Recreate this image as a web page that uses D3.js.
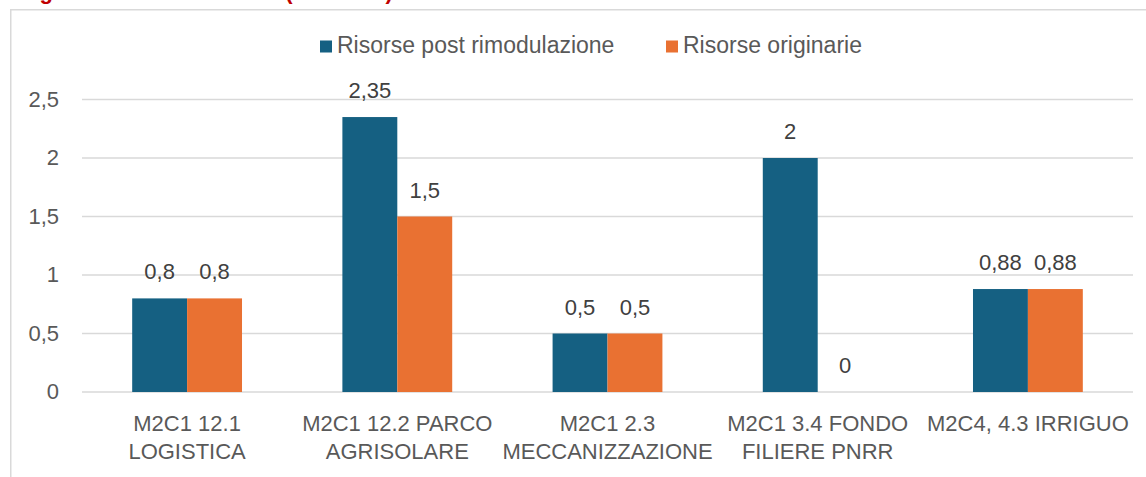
<!DOCTYPE html>
<html>
<head>
<meta charset="utf-8">
<script src="https://cdn.jsdelivr.net/npm/d3@7"></script>
<style>
  body { margin: 0; background: #fff; overflow: hidden; }
  svg text { font-family: "Liberation Sans", Arial, sans-serif; }
</style>
</head>
<body>
<script>
// data
var categories = ["M2C1 12.1 LOGISTICA", "M2C1 12.2 PARCO AGRISOLARE", "M2C1 2.3 MECCANIZZAZIONE", "M2C1 3.4 FONDO FILIERE PNRR", "M2C4, 4.3 IRRIGUO"];
var seriesNames = ["Risorse post rimodulazione", "Risorse originarie"];
var postValues = [0.8, 2.35, 0.5, 2, 0.88];
var origValues = [0.8, 1.5, 0.5, 0, 0.88];
var yTicks = [0, 0.5, 1, 1.5, 2, 2.5];
var colors = ["#156082", "#E97132"];

var chartW = 1146, chartH = 477;
var plotLeft = 82, plotRight = 1133, plotTop = 99.5, plotBottom = 392;

var svg = d3.select("body").append("svg")
  .attr("width", chartW)
  .attr("height", chartH)
  .style("display", "block");

// title, cut off at the top edge
svg.append("text")
  .attr("x", 20).attr("y", -1)
  .attr("fill", "#C00000")
  .attr("font-weight", "bold")
  .attr("font-size", 22)
  .text("Figura 2 – Risorse PNRR (mld euro)");

// frame
svg.append("path")
  .attr("d", "M10.75," + chartH + "V9.75H" + chartW)
  .attr("fill", "none")
  .attr("stroke", "#d9d9d9")
  .attr("stroke-width", 1.5);

var x0 = d3.scaleBand().domain(categories).range([plotLeft, plotRight]).padding(0);
var x1 = d3.scaleBand().domain(seriesNames).range([0, x0.bandwidth()])
  .paddingInner(0).paddingOuter(0.914);
var y = d3.scaleLinear().domain([0, 2.5]).range([plotBottom, plotTop]);

// grid
svg.append("g").selectAll("line").data(yTicks).enter().append("line")
  .attr("x1", plotLeft).attr("x2", plotRight)
  .attr("y1", function(d){ return y(d); })
  .attr("y2", function(d){ return y(d); })
  .attr("stroke", "#d9d9d9")
  .attr("stroke-width", 1.5);

// y axis labels
var yAxis = d3.axisLeft(y).tickValues(yTicks).tickSize(0).tickPadding(0)
  .tickFormat(function(d){ return String(d).replace(".", ","); });
var yg = svg.append("g").attr("transform", "translate(59,0)").call(yAxis);
yg.select(".domain").remove();
yg.selectAll("text")
  .attr("font-size", 22)
  .attr("fill", "#595959")
  .attr("font-family", "Liberation Sans, Arial, sans-serif")
  .attr("dy", "0.3em");

var rows = categories.map(function(c, i){
  return { cat: c, vals: [postValues[i], origValues[i]] };
});

var groups = svg.append("g").selectAll("g").data(rows).enter().append("g")
  .attr("transform", function(d){ return "translate(" + x0(d.cat) + ",0)"; });

groups.selectAll("rect").data(function(d){
    return d.vals.map(function(v, j){ return { s: seriesNames[j], v: v, j: j }; });
  }).enter().append("rect")
  .attr("x", function(d){ return x1(d.s); })
  .attr("width", x1.bandwidth())
  .attr("y", function(d){ return y(d.v); })
  .attr("height", function(d){ return y(0) - y(d.v); })
  .attr("fill", function(d){ return colors[d.j]; });

groups.selectAll("text.val").data(function(d){
    return d.vals.map(function(v, j){ return { s: seriesNames[j], v: v }; });
  }).enter().append("text")
  .attr("class", "val")
  .attr("x", function(d){ return x1(d.s) + x1.bandwidth() / 2; })
  .attr("y", function(d){ return y(d.v) - 19; })
  .attr("text-anchor", "middle")
  .attr("font-size", 22)
  .attr("fill", "#404040")
  .text(function(d){ return String(d.v).replace(".", ","); });

// category labels, wrapped to slot width
var xAxis = svg.append("g");
categories.forEach(function(c){
  var cx = x0(c) + x0.bandwidth() / 2;
  var t = xAxis.append("text")
    .attr("x", cx)
    .attr("y", 430.5)
    .attr("text-anchor", "middle")
    .attr("font-size", 22)
    .attr("fill", "#595959");
  var words = c.split(" "), line = [];
  var tspan = t.append("tspan").attr("x", cx);
  words.forEach(function(w){
    line.push(w);
    tspan.text(line.join(" "));
    if (tspan.node().getComputedTextLength() > x0.bandwidth() - 4 && line.length > 1) {
      line.pop();
      tspan.text(line.join(" "));
      line = [w];
      tspan = t.append("tspan")
        .attr("x", cx)
        .attr("dy", 28.5)
        .text(w);
    }
  });
});

// legend
var legend = svg.append("g");
var legendX = [320, 666];
seriesNames.forEach(function(s, i){
  legend.append("rect")
    .attr("x", legendX[i]).attr("y", 40.5)
    .attr("width", 12).attr("height", 12)
    .attr("fill", colors[i]);
  legend.append("text")
    .attr("x", legendX[i] + 17).attr("y", 53)
    .attr("font-size", 23)
    .attr("fill", "#595959")
    .text(s);
});
</script>
</body>
</html>
